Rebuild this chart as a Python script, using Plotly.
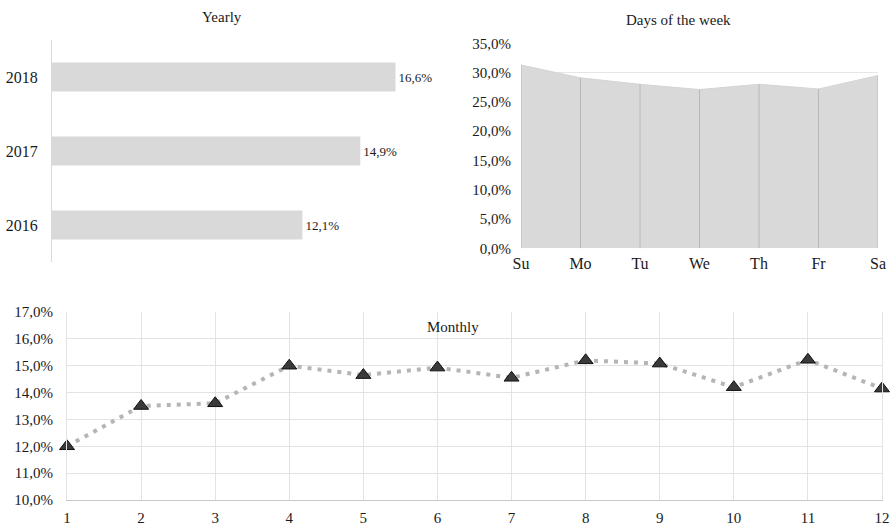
import plotly.graph_objects as go

W, H = 894, 525

years = ["2016", "2017", "2018"]
yearly_pct = [12.1, 14.9, 16.6]

days = ["Su", "Mo", "Tu", "We", "Th", "Fr", "Sa"]
days_pct = [31.3, 29.1, 28.0, 27.1, 28.0, 27.2, 29.5]

months = [1, 2, 3, 4, 5, 6, 7, 8, 9, 10, 11, 12]
monthly_pct = [12.0, 13.5, 13.6, 15.0, 14.65, 14.93, 14.55, 15.2, 15.08, 14.2, 15.22, 14.15]

FONT = "Liberation Serif"
TXT = "#1a1a1a"


def px_x(p):
    return p / W


def px_y(p):
    return 1 - p / H


fig = go.Figure()

# Yearly bars
fig.add_trace(go.Bar(
    x=yearly_pct, y=years, orientation="h",
    marker=dict(color="#d9d9d9", line=dict(width=0)),
    text=yearly_pct, texttemplate="%{x:.1f}%", textposition="outside",
    textfont=dict(family=FONT, size=13, color=TXT),
    cliponaxis=False,
    xaxis="x", yaxis="y", showlegend=False,
))

# Days area
fig.add_trace(go.Scatter(
    x=days, y=days_pct, mode="lines", fill="tozeroy",
    fillcolor="#d9d9d9", line=dict(color="#d4d4d4", width=1),
    xaxis="x2", yaxis="y2", showlegend=False,
))
# drop lines
dx, dy = [], []
for d, v in zip(days, days_pct):
    dx += [d, d, None]
    dy += [0, v, None]
fig.add_trace(go.Scatter(
    x=dx, y=dy, mode="lines", line=dict(color="#b8b8b8", width=1),
    xaxis="x2", yaxis="y2", showlegend=False,
))

# Monthly line
fig.add_trace(go.Scatter(
    x=months, y=monthly_pct, mode="lines+markers",
    line=dict(color="#b5b5b5", width=4, dash="4px,6px"),
    marker=dict(symbol="triangle-up", size=13, color="#3a3a3a",
                line=dict(color="#111111", width=1)),
    cliponaxis=False,
    xaxis="x3", yaxis="y3", showlegend=False,
))

fig.update_layout(
    template="none",
    width=W, height=H,
    margin=dict(l=0, r=0, t=0, b=0, pad=0, autoexpand=False),
    paper_bgcolor="white", plot_bgcolor="white",
    separators=",.",
    font=dict(family=FONT, size=15, color=TXT),
    bargap=0.61,
    xaxis=dict(domain=[px_x(52), px_x(440)], range=[0, 18.75], visible=False,
               anchor="y", automargin=False),
    yaxis=dict(domain=[px_y(262), px_y(40)], type="category", range=[-0.5, 2.5],
               showline=True, linecolor="#d9d9d9", linewidth=1, showgrid=False,
               ticks="", ticklabelstandoff=10, tickfont=dict(size=16),
               anchor="x", automargin=False),
    xaxis2=dict(domain=[px_x(521), px_x(878)], type="category", range=[0, 6],
                showgrid=False, showline=False, ticks="", ticklabelstandoff=4,
                tickfont=dict(size=16), anchor="y2", automargin=False),
    yaxis2=dict(domain=[px_y(248.3), px_y(43.3)], range=[0, 35], dtick=5,
                tickformat=".1f", ticksuffix="%", showgrid=True,
                gridcolor="#e6e6e6", zeroline=False, showline=False,
                ticks="", ticklabelstandoff=9, anchor="x2", automargin=False),
    xaxis3=dict(domain=[px_x(67), px_x(882)], range=[1, 12], dtick=1,
                showgrid=True, gridcolor="#e3e3e3", zeroline=False,
                showline=True, linecolor="#c8c8c8", mirror=False,
                ticks="", ticklabelstandoff=4, anchor="y3", automargin=False),
    yaxis3=dict(domain=[px_y(500), px_y(312)], range=[10, 17], dtick=1,
                tickformat=".1f", ticksuffix="%", showgrid=True,
                gridcolor="#e3e3e3", zeroline=False, showline=True,
                linecolor="#e3e3e3", mirror=True, ticks="", ticklabelstandoff=10,
                anchor="x3", automargin=False),
    annotations=[
        dict(text="Yearly", x=px_x(222), y=px_y(17), xref="paper", yref="paper",
             xanchor="center", yanchor="middle",
             showarrow=False, font=dict(size=15, color=TXT)),
        dict(text="Days of the week", x=px_x(678), y=px_y(20), xref="paper",
             yref="paper", xanchor="center", yanchor="middle",
             showarrow=False, font=dict(size=15, color=TXT)),
        dict(text="Monthly", x=px_x(453), y=px_y(327), xref="paper",
             yref="paper", xanchor="center", yanchor="middle",
             showarrow=False, font=dict(size=15, color=TXT)),
    ],
)

fig.write_html(
    "out.html",
    config={"displayModeBar": False},
    post_script="document.body.style.margin='0';document.body.style.overflow='hidden';",
)
